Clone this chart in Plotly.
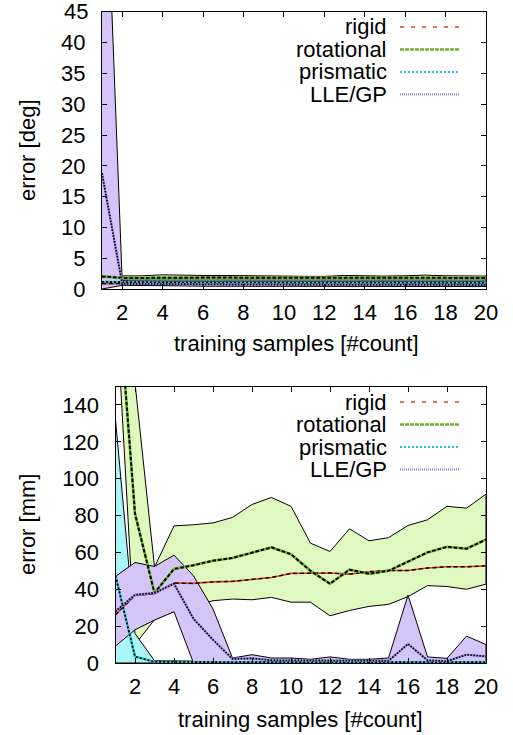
import plotly.graph_objects as go

# ---------------- data ----------------
samples = list(range(1, 21))
x_ticks = list(range(2, 21, 2))
y_ticks_deg = list(range(0, 41, 5))
y_top_label = 45
y_ticks_mm = list(range(0, 141, 20))
series_names = ["rigid", "rotational", "prismatic", "LLE/GP"]

# top panel: angular error [deg]
rigid_deg = [0.87, 0.9, 0.9, 0.92, 0.9, 0.9, 0.9, 0.9, 0.9, 0.9, 0.88, 0.88, 0.9, 0.9, 0.9, 0.9, 0.9, 0.9, 0.9, 0.9]
rot_deg = [2.05, 1.8, 1.8, 1.85, 1.85, 1.85, 1.85, 1.85, 1.8, 1.8, 1.75, 1.75, 1.8, 1.8, 1.8, 1.8, 1.8, 1.8, 1.8, 1.8]
rot_deg_hi = [2.1, 2.1, 2.15, 2.3, 2.2, 2.2, 2.2, 2.2, 2.15, 2.1, 2.05, 2.05, 2.2, 2.1, 2.1, 2.15, 2.25, 2.15, 2.1, 2.1]
rot_deg_lo = [2.0, 1.45, 1.45, 1.45, 1.5, 1.5, 1.5, 1.5, 1.45, 1.45, 1.45, 1.45, 1.45, 1.45, 1.45, 1.45, 1.45, 1.45, 1.45, 1.45]
prism_deg = [1.15, 1.1, 1.1, 1.05, 1.05, 1.05, 1.05, 1.05, 1.05, 1.05, 1.0, 1.0, 1.05, 1.05, 1.05, 1.05, 1.05, 1.05, 1.05, 1.05]
prism_deg_hi = [1.3, 1.25, 1.25, 1.2, 1.2, 1.2, 1.2, 1.2, 1.2, 1.2, 1.15, 1.15, 1.2, 1.2, 1.2, 1.2, 1.2, 1.2, 1.2, 1.2]
prism_deg_lo = [1.0, 0.95, 0.95, 0.9, 0.9, 0.9, 0.9, 0.9, 0.9, 0.9, 0.85, 0.85, 0.9, 0.9, 0.9, 0.9, 0.9, 0.9, 0.9, 0.9]
lle_deg = [18.8, 0.85, 0.85, 0.8, 0.75, 0.7, 0.7, 0.7, 0.7, 0.7, 0.65, 0.65, 0.65, 0.65, 0.65, 0.6, 0.65, 0.65, 0.65, 0.65]
lle_deg_hi = [87.0, 1.3, 1.1, 1.05, 1.0, 0.95, 0.95, 0.95, 0.95, 0.95, 0.9, 0.9, 0.9, 0.9, 0.9, 0.85, 0.9, 0.9, 0.9, 0.9]
lle_deg_lo = [0.0, 0.6, 0.6, 0.55, 0.5, 0.45, 0.45, 0.45, 0.45, 0.45, 0.4, 0.4, 0.4, 0.4, 0.4, 0.35, 0.4, 0.4, 0.4, 0.4]

# bottom panel: positional error [mm]
rigid_mm = [26.2, 36.7, 37.6, 43.4, 43.2, 44.0, 44.3, 45.5, 46.4, 48.6, 48.8, 48.8, 48.2, 49.5, 50.2, 50.2, 51.5, 52.2, 52.2, 52.7]
rot_mm = [219, 81, 38, 51, 53, 55.5, 57, 60, 62.7, 59, 50, 43, 50.6, 48.4, 50, 55, 60, 63, 62, 67]
rot_mm_hi = [237, 152, 52, 74.4, 75, 76, 79, 86, 89.8, 85, 65, 60.5, 72.8, 66.3, 68, 74.6, 77.7, 85, 84, 91.6]
rot_mm_lo = [201, 10, 23.5, 28, 31, 33.8, 34.7, 34.3, 35.6, 33, 33, 25.6, 28.5, 30.7, 31.8, 36, 42, 41.5, 40, 42.8]
prism_mm = [47.3, 3.5, 0.6, 0.5, 0.5, 0.5, 0.5, 0.5, 0.5, 0.5, 0.5, 0.5, 0.5, 0.5, 0.5, 0.5, 0.5, 0.5, 0.5, 0.5]
prism_mm_hi = [132, 16, 1.2, 1.0, 1.0, 1.0, 1.0, 1.0, 1.0, 1.0, 1.0, 1.0, 1.0, 1.0, 1.0, 1.0, 1.0, 1.0, 1.0, 1.0]
prism_mm_lo = [0, 0, 0.2, 0.2, 0.2, 0.2, 0.2, 0.2, 0.2, 0.2, 0.2, 0.2, 0.2, 0.2, 0.2, 0.2, 0.2, 0.2, 0.2, 0.2]
lle_mm = [28, 37, 38, 43, 24, 12.6, 2.2, 2.5, 1.5, 1.5, 1.2, 1.5, 1.2, 1.2, 1.2, 10.3, 1.5, 1.0, 4.5, 3.6]
lle_mm_hi = [47, 54.5, 52.4, 58.5, 47.3, 29.3, 2.7, 4.5, 2.7, 2.7, 2.0, 3.3, 2.0, 2.0, 2.7, 36.8, 3.3, 2.5, 14.6, 10]
lle_mm_lo = [9.2, 18, 23.3, 27.8, 0, 0, 0.8, 0.6, 0.4, 0.4, 0.4, 0.4, 0.4, 0.4, 0.4, 0.4, 0.4, 0.4, 0.4, 0.4]

# ---------------- styles ----------------
W, H = 513, 735
FONT = "Liberation Sans, Arial, sans-serif"
FS = 22
line_col = {"rigid": "#e0402a", "rotational": "#6fb32e", "prismatic": "#1fc2c8", "LLE/GP": "#9a88e6"}
fill_col = {"rotational": "rgba(222,248,190,1)", "prismatic": "rgba(170,246,246,1)", "LLE/GP": "rgba(212,196,248,1)"}
legend_dash = {"rigid": "4px,7px", "rotational": "4px,1px", "prismatic": "2px,2px", "LLE/GP": "1px,1px"}
overlay_dash = {"rigid": "4px,3px", "rotational": "3.5px,2px", "prismatic": "2px,2px", "LLE/GP": "1.5px,1.5px"}
mean_w = {"rigid": 1.6, "rotational": 2.6, "prismatic": 2.2, "LLE/GP": 2.2}
over_w = {"rigid": 1.4, "rotational": 2.0, "prismatic": 1.8, "LLE/GP": 1.8}

fig = go.Figure()


def add_band(xa, ya, lo, hi, name):
    fig.add_trace(go.Scatter(
        x=samples + samples[::-1], y=hi + lo[::-1], xaxis=xa, yaxis=ya,
        mode="lines", fill="toself", fillcolor=fill_col[name],
        line=dict(color="black", width=1), hoverinfo="skip", showlegend=False))


def add_mean(xa, ya, vals, name):
    fig.add_trace(go.Scatter(x=samples, y=vals, xaxis=xa, yaxis=ya, mode="lines",
                             line=dict(color=line_col[name], width=mean_w[name]),
                             showlegend=False))
    fig.add_trace(go.Scatter(x=samples, y=vals, xaxis=xa, yaxis=ya, mode="lines",
                             line=dict(color="black", width=over_w[name], dash=overlay_dash[name]),
                             showlegend=False, hoverinfo="skip"))


panels = [
    ("x", "y", [rigid_deg, rot_deg, prism_deg, lle_deg],
     [(rot_deg_lo, rot_deg_hi), (prism_deg_lo, prism_deg_hi), (lle_deg_lo, lle_deg_hi)]),
    ("x2", "y2", [rigid_mm, rot_mm, prism_mm, lle_mm],
     [(rot_mm_lo, rot_mm_hi), (prism_mm_lo, prism_mm_hi), (lle_mm_lo, lle_mm_hi)]),
]
for xa, ya, means, bands in panels:
    for (lo, hi), name in zip(bands, series_names[1:]):
        add_band(xa, ya, lo, hi, name)
    for vals, name in zip(means, series_names):
        add_mean(xa, ya, vals, name)


def ax_common():
    return dict(showline=True, linecolor="black", linewidth=1.2, mirror="ticks",
                ticks="inside", ticklen=5, tickcolor="black", tickwidth=1,
                showgrid=False, zeroline=False,
                tickfont=dict(family=FONT, size=FS, color="black"))


# plot-area boxes in reference pixels (left, right, top, bottom)
top_box = (102, 486, 12, 289)
bot_box = (115.5, 486, 386.5, 663)


def px_x(p):
    return p / W


def px_y(p):
    return 1 - p / H


def dom_x(b):
    return [px_x(b[0]), px_x(b[1])]


def dom_y(b):
    return [px_y(b[3]), px_y(b[2])]


fig.update_layout(
    width=W, height=H, autosize=False,
    margin=dict(l=0, r=0, t=0, b=0, autoexpand=False),
    paper_bgcolor="white", plot_bgcolor="white",
    font=dict(family=FONT, size=FS, color="black"),
    xaxis=dict(domain=dom_x(top_box), range=[1, 20], tickvals=x_ticks, anchor="y",
               ticklabelstandoff=3, **ax_common()),
    yaxis=dict(domain=dom_y(top_box), range=[0, 45], tickvals=y_ticks_deg + [y_top_label],
               ticktext=[str(v) for v in y_ticks_deg] + [""], anchor="x",
               ticklabelstandoff=11, **ax_common()),
    xaxis2=dict(domain=dom_x(bot_box), range=[1, 20], tickvals=x_ticks, anchor="y2",
                ticklabelstandoff=3, **ax_common()),
    yaxis2=dict(domain=dom_y(bot_box), range=[0, 150], tickvals=y_ticks_mm, anchor="x2",
                ticklabelstandoff=11, **ax_common()),
)

annotations = []
shapes = []

# top-most y label of the upper panel (sits at the frame edge)
annotations.append(dict(x=px_x(89.5), y=y_top_label, xref="paper", yref="y",
                        text=str(y_top_label), showarrow=False, xanchor="right", yanchor="middle",
                        font=dict(family=FONT, size=FS, color="black")))

# axis titles
for cx, cy, txt, ang in [
    (296, 343, "training samples [#count]", 0),
    (300, 719, "training samples [#count]", 0),
    (27, 150, "error [deg]", -90),
    (27, 525, "error [mm]", -90),
]:
    annotations.append(dict(x=px_x(cx), y=px_y(cy), xref="paper", yref="paper",
                            text=txt, showarrow=False, textangle=ang,
                            xanchor="center", yanchor="middle",
                            font=dict(family=FONT, size=FS, color="black")))

# manual legends (text left, sample right, as in the original)
for rows_y in ([27, 49.5, 72, 94.3], [402, 424.5, 447, 469.3]):
    for name, yy in zip(series_names, rows_y):
        annotations.append(dict(x=px_x(389), y=px_y(yy), xref="paper", yref="paper",
                                text=name, showarrow=False, xanchor="right", yanchor="middle",
                                font=dict(family=FONT, size=FS, color="black")))
        shapes.append(dict(type="line", xref="paper", yref="paper",
                           x0=px_x(400), x1=px_x(459), y0=px_y(yy), y1=px_y(yy),
                           line=dict(color=line_col[name], width=mean_w[name] if name != "rigid" else 1.5,
                                     dash=legend_dash[name])))

fig.update_layout(annotations=annotations, shapes=shapes)

fig.write_html("out.html")
